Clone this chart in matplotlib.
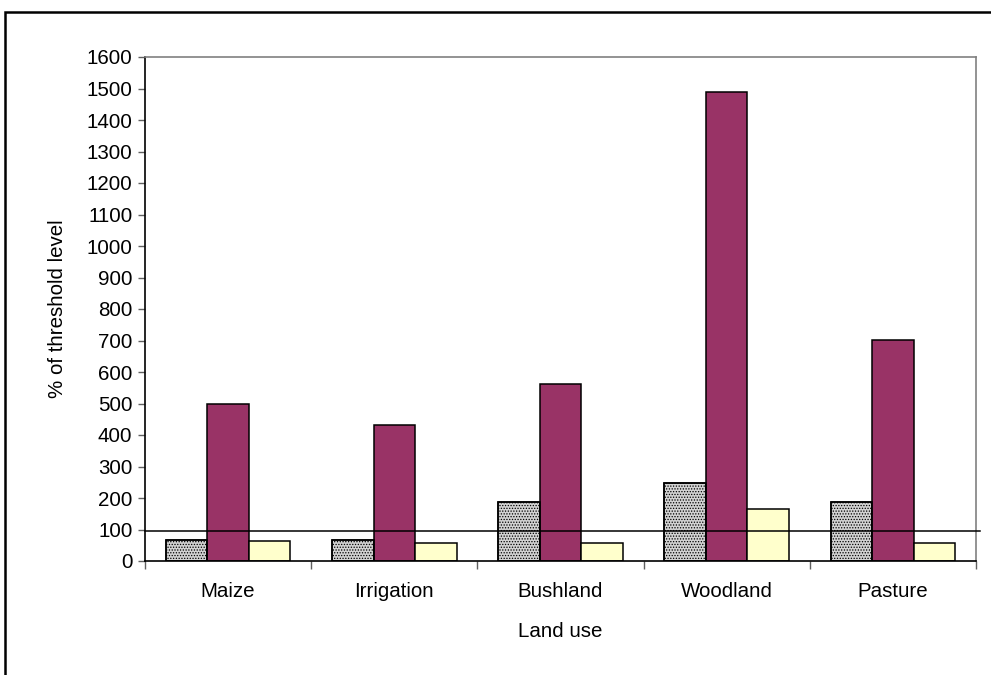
import matplotlib
matplotlib.use("Agg")
import matplotlib.pyplot as plt
from matplotlib.patches import Rectangle
import numpy as np

plt.rcParams['font.family'] = ['Liberation Sans', 'DejaVu Sans']
plt.rcParams['hatch.linewidth'] = 0.6

categories = ["Maize", "Irrigation", "Bushland", "Woodland", "Pasture"]
series_a = [67, 68, 188, 247, 188]
series_b = [497, 432, 563, 1490, 703]
series_c = [62, 57, 58, 166, 58]
threshold = 96
y_ticks = list(range(0, 1601, 100))

FS = 14.8

fig = plt.figure(figsize=(9.91, 6.75), dpi=100)
ax = fig.add_axes([145 / 991, 1 - 561 / 675, (976 - 145) / 991, (561 - 57) / 675])

x = np.arange(len(categories))
w = 0.25
ax.bar(x - w, series_a, width=w, color='#d2d2d2', edgecolor='black',
       linewidth=1.1, hatch='......', zorder=2)
ax.bar(x - w, series_a, width=w, color='none', edgecolor='black',
       linewidth=1.1, zorder=3)
ax.bar(x, series_b, width=w, color='#993366', edgecolor='black',
       linewidth=1.1, zorder=2)
ax.bar(x + w, series_c, width=w, color='#ffffcc', edgecolor='black',
       linewidth=1.1, zorder=2)

# threshold line running slightly past the plot area
ax.plot([-0.5, 4.5 + 4 / 166], [threshold, threshold], color='black',
        linewidth=1.1, clip_on=False, zorder=4)

ax.set_xlim(-0.5, 4.5)
ax.set_ylim(0, 1600)
ax.set_yticks(y_ticks)
ax.set_yticklabels([str(v) for v in y_ticks], fontsize=FS)
ax.set_xticks(x)
ax.set_xticklabels(categories, fontsize=FS)
ax.set_xticks(np.arange(-0.5, 5, 1), minor=True)
ax.tick_params(axis='x', which='major', length=0, pad=15)
ax.tick_params(axis='x', which='minor', length=6, width=1, color='#606060')
ax.tick_params(axis='y', length=5, width=1, color='#606060', pad=4)

for s in ('top', 'right'):
    ax.spines[s].set_color('#808080')
    ax.spines[s].set_linewidth(1.2)
for s in ('left', 'bottom'):
    ax.spines[s].set_color('black')
    ax.spines[s].set_linewidth(1.2)

ax.set_xlabel("Land use", fontsize=FS, labelpad=15)
ax.set_ylabel("% of threshold level", fontsize=FS, labelpad=14)

# outer frame around the chart
fig.patches.append(Rectangle((5 / 991, -0.05), 1.1, 1 - 12 / 675 + 0.05,
                             transform=fig.transFigure, fill=False,
                             edgecolor='black', linewidth=1.8))

fig.savefig("out.png", dpi=100)
